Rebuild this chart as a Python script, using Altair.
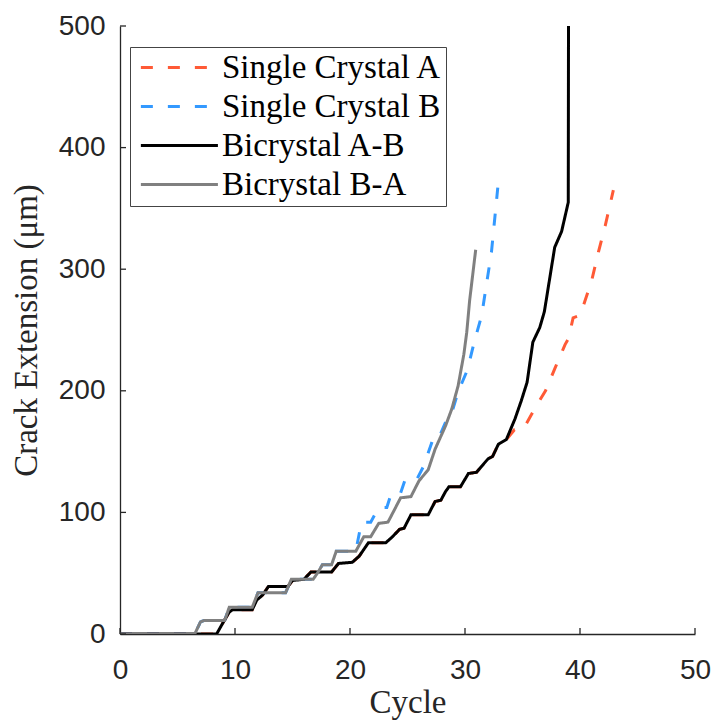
import altair as alt
import pandas as pd

# ---- data ----
names = ["Single Crystal A", "Single Crystal B", "Bicrystal A-B", "Bicrystal B-A"]
colors = ["#FF5A36", "#3399FF", "#000000", "#808080"]
dashes = [[12, 15], [12, 15], [1, 0], [1, 0]]

cyc_ab = [0, 8.4, 9.0, 9.5, 9.8, 11.5, 11.9, 12.4, 12.9, 14.6, 15.0, 16.0, 16.6, 18.4, 19.0,
          20.2, 20.8, 21.6, 23.1, 23.7, 24.3, 24.7, 25.3, 26.8, 27.4, 27.9, 28.3, 28.6, 29.6,
          30.3, 31.0, 31.45, 32.0, 32.4, 32.9, 33.6, 34.35, 34.9, 35.4, 35.9, 36.5, 36.9,
          37.8, 38.4, 38.98, 39.0]
val_ab = [0, 0, 10, 18, 20, 20, 28, 32, 39, 39, 44, 45, 51, 51, 58,
          59, 64, 75, 75, 80, 86, 87, 98, 98, 109, 110, 117, 121, 121,
          132, 133, 138, 144, 146, 156, 160, 177, 192, 207, 240, 252, 265,
          318, 331, 355, 500]

cyc_a = [0, 8.4, 9.0, 9.5, 9.8, 11.5, 11.9, 12.4, 12.9, 14.6, 15.0, 16.0, 16.6, 18.4, 19.0,
         20.2, 20.8, 21.6, 23.1, 23.7, 24.3, 24.7, 25.3, 26.8, 27.4, 27.9, 28.3, 28.6, 29.6,
         30.3, 31.0, 31.45, 32.0, 32.4, 32.9, 33.6, 34.3, 35.1, 36.1, 37.0, 37.8, 38.7, 39.0,
         39.4, 40.0, 40.4, 41.0, 41.6, 42.2, 42.9]
val_a = [0, 0, 10, 18, 20, 20, 28, 32, 39, 39, 44, 45, 51, 51, 58,
         59, 64, 75, 75, 80, 86, 87, 98, 98, 109, 110, 117, 121, 121,
         132, 133, 138, 144, 146, 156, 160, 168, 169, 186, 200, 218, 238, 243,
         260, 262, 273, 290, 314, 336, 365]

cyc_ba = [0, 6.5, 7.0, 7.3, 9.1, 9.5, 11.5, 12.0, 14.4, 14.9, 16.8, 17.3, 17.6, 18.4, 18.8,
          20.5, 21.2, 21.8, 22.5, 23.3, 23.8, 24.4, 25.3, 26.0, 26.8, 27.4, 28.3, 28.85,
          29.4, 29.9, 30.15, 30.4, 30.93]
val_ba = [0, 0, 10, 11, 11, 22, 22, 34, 34, 45, 45, 52, 57, 57, 68,
          68, 80, 80, 91, 92, 101, 112, 113, 126, 135, 152, 171, 185,
          204, 230, 248, 274, 316]

cyc_b = [0, 6.5, 7.0, 7.3, 9.1, 9.5, 11.5, 12.0, 14.4, 14.9, 16.8, 17.3, 17.6, 18.4, 18.8,
         20.5, 21.0, 21.8, 22.5, 23.2, 23.6, 24.4, 24.8, 25.8, 26.4, 27.1, 27.3, 27.8,
         28.3, 28.85, 29.4, 30.2, 30.8, 31.45, 32.3, 32.85]
val_b = [0, 0, 10, 11, 11, 22, 22, 34, 34, 45, 45, 52, 57, 57, 68,
         68, 92, 92, 104, 104, 116, 116, 127, 127, 138, 157, 163, 163,
         174, 182, 199, 217, 240, 262, 314, 367]

x_ticks = [0, 10, 20, 30, 40, 50]
y_ticks = [0, 100, 200, 300, 400, 500]

# ---- tables ----
series_data = {
    "Single Crystal A": (cyc_a, val_a),
    "Single Crystal B": (cyc_b, val_b),
    "Bicrystal A-B": (cyc_ab, val_ab),
    "Bicrystal B-A": (cyc_ba, val_ba),
}
rows = []
for s, (cs, vs) in series_data.items():
    for i, (c, v) in enumerate(zip(cs, vs)):
        rows.append({"series": s, "cycle": c, "value": v, "idx": i})
df = pd.DataFrame(rows)

W, H = 575, 608
AX = "#262626"

X_ENC = alt.X("cycle:Q", scale=alt.Scale(domain=[0, 50], nice=False),
              axis=alt.Axis(values=x_ticks, title="Cycle", ticks=False, grid=False,
                            labelFlush=False, labelPadding=22, titleY=78,
                            titleBaseline="alphabetic"))
Y_ENC = alt.Y("value:Q", scale=alt.Scale(domain=[0, 500], nice=False),
              axis=alt.Axis(values=y_ticks, title="Crack Extension (\u03bcm)", ticks=False,
                            grid=False, labelFlush=False, labelPadding=15,
                            titleAngle=270, titleX=-84, titleY=H / 2,
                            titleAlign="center", titleBaseline="alphabetic"))

leg = alt.Legend(title=None, orient="none", legendX=10, legendY=21,
                 symbolType="M-1,0H7", symbolSize=371, symbolStrokeWidth=3,
                 labelOffset=55, labelFont="Liberation Serif", labelFontSize=33,
                 labelColor="#000000", padding=4, rowPadding=5,
                 strokeColor="#444444", fillColor="#ffffff", labelLimit=400)
COLOR = alt.Color("series:N", scale=alt.Scale(domain=names, range=colors), legend=leg)
DASH = alt.StrokeDash("series:N", scale=alt.Scale(domain=names, range=dashes), legend=leg)

base = alt.Chart(df)
layers = []
for s in names:
    layers.append(
        base.transform_filter(alt.datum.series == s)
        .mark_line(strokeWidth=3, clip=True)
        .encode(x=X_ENC, y=Y_ENC, color=COLOR, strokeDash=DASH, order="idx:Q")
    )

xt = alt.Chart(pd.DataFrame({"cycle": x_ticks})).mark_rule(color=AX, strokeWidth=1.3).encode(
    x=X_ENC, y=alt.value(H), y2=alt.value(H - 6))
yt = alt.Chart(pd.DataFrame({"value": y_ticks})).mark_rule(color=AX, strokeWidth=1.3).encode(
    y=Y_ENC, x=alt.value(0), x2=alt.value(6))

chart = alt.layer(*layers, xt, yt).properties(
    width=W, height=H,
    autosize=alt.AutoSizeParams(type="none"),
    padding={"left": 120, "top": 26, "right": 18, "bottom": 86},
).configure_view(stroke=None).configure_axis(
    labelFont="Liberation Sans", labelFontSize=28, labelColor=AX,
    domainColor=AX, domainWidth=1.3,
    titleFont="Liberation Serif", titleFontSize=33, titleFontWeight="normal", titleColor=AX,
)

chart.save("out.html", embed_options={"renderer": "svg", "actions": False})
